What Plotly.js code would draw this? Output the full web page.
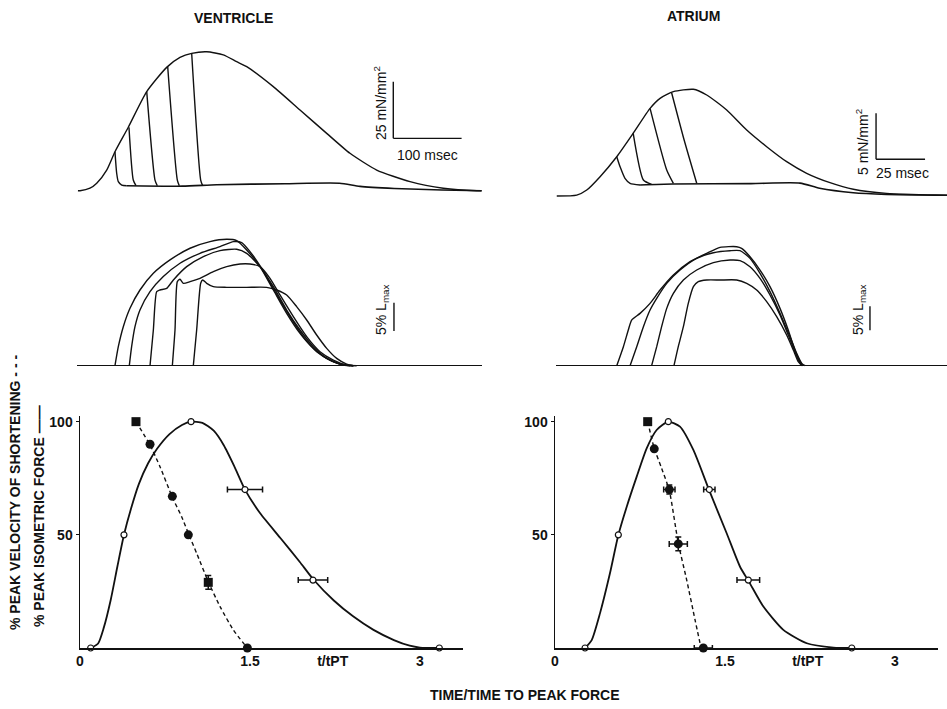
<!DOCTYPE html>
<html><head><meta charset="utf-8">
<script src="https://cdn.plot.ly/plotly-3.0.1.min.js"></script>
<style>html,body{margin:0;padding:0;background:#fff}</style>
</head><body><div id="chart" style="width:947px;height:709px"></div>
<script>
// ===== DATA =====
// Ventricle: isometric twitch (ms, mN/mm^2)
const vIsoT = [-3, 0, 14.6, 24.5, 39.1, 51.2, 70.7, 97.7, 126.9, 146.4, 163.5, 185.5, 209.8, 229.4, 244.1, 283.0, 322.1, 361.2, 395.3, 434.4, 483.2, 531.9, 580.8, 588];
const vIsoF = [0, 0, 1.1, 3.3, 9.1, 17.2, 28.0, 43.7, 54.4, 58.8, 60.6, 61.3, 59.9, 56.9, 54.7, 45.9, 35.6, 25.3, 16.5, 9.1, 4.0, 1.1, 0, 0];
// Ventricle: quick-release force drops
const vRelT = [[51.2, 53.7, 56.1, 61.1, 68.4], [71.7, 78.0, 82.0], [97.7, 109.8, 113.2], [128.4, 142.5, 145.4], [163.5, 176.7, 179.6]];
const vRelF = [[17.2, 7.7, 4.0, 2.5, 2.2], [28.0, 4.7, 2.2], [43.7, 4.7, 2.2], [54.7, 4.7, 2.2], [60.6, 4.7, 2.2]];
const vTailT = [68.4, 150, 200, 300, 380, 410, 460, 530, 588];
const vTailF = [2.2, 2.0, 2.6, 3.1, 3.3, 1.9, 1.0, 0.3, 0];
// Ventricle: shortening traces (ms, % Lmax)
const vLenT = [
  [51.2,56.1,63.4,73.2,87.8,107.4,131.8,161.1,190.3,214.7,229.4,244.0,263.5,283.1,302.6,322.1,341.6,361.2,380.7,395.3],
  [72.2,75.6,80.5,87.8,102.5,122.0,146.4,175.7,205.0,224.5,236.7,248.9,266.0,285.5,307.5,327.0,346.5,366.0,385.6,400.2],
  [102.5,107.4,112.3,117.1,126.9,136.7,156.2,180.6,205.0,229.4,244.0,263.5,283.1,302.6,322.1,341.6,361.2,380.7,400.2],
  [135.2,139.1,142.5,146.4,151.3,161.1,175.7,195.2,214.7,234.3,248.9,263.5,278.2,292.8,312.4,331.9,351.4,370.9,390.4,405.1],
  [165.9,170.8,176.7,179.6,185.5,195.2,214.7,244.0,273.3,287.9,302.6,317.2,331.9,346.5,361.2,375.8,390.4,400.2]
];
const vLenL = [
  [0,3.35,6.88,10.12,13.35,16.29,18.65,20.71,21.88,22.29,22.06,20.41,17.47,13.35,9.24,5.71,3.06,1.29,0.29,0],
  [0,3.35,6.88,9.82,13.06,15.71,18.06,19.82,21.0,21.88,21.71,20.12,17.18,13.06,8.65,5.12,2.47,1.0,0.12,0],
  [0,6.29,13.06,13.35,13.65,15.12,17.47,19.24,20.29,20.53,19.82,17.47,13.94,9.82,6.29,3.35,1.29,0.29,0],
  [0,6.29,14.82,15.24,14.53,14.82,15.41,16.59,17.47,17.94,17.94,17.47,15.41,12.47,8.65,5.12,2.47,1.0,0.12,0],
  [0,6.29,14.53,15.12,14.53,13.94,13.82,13.82,13.82,13.35,12.47,10.41,8.06,5.41,3.06,1.29,0.29,0]
];
// Atrium: isometric twitch (ms, mN/mm^2)
const aIsoT = [0.9, 11.1, 16.2, 23.0, 31.5, 39.9, 48.5, 53.6, 60.4, 70.6, 77.4, 87.6, 97.8, 108.0, 118.2, 128.4, 140.3, 152.2, 169.2, 194.7, 200];
const aIsoF = [0, 0.1, 0.65, 2.1, 4.27, 6.82, 9.53, 10.62, 11.34, 11.6, 10.98, 9.35, 7.17, 5.36, 3.73, 2.47, 1.45, 0.73, 0.29, 0.11, 0.1];
const aRelT = [[31.5, 33.2, 35.7, 38.3, 43.4], [39.9, 45.1, 49.3], [48.5, 57.0, 60.4], [59.5, 66.0, 72.3]];
const aRelF = [[4.27, 3.18, 1.92, 1.38, 1.2], [6.82, 1.74, 1.27], [9.53, 2.83, 1.38], [11.23, 6.0, 1.38]];
const aTailT = [43.4, 60, 100, 125, 135, 152.2, 169.2, 194.7, 200];
const aTailF = [1.2, 1.3, 1.35, 1.4, 0.84, 0.36, 0.18, 0.08, 0.08];
// Atrium: shortening traces (ms, % Lmax)
const aLenT = [
  [31.5,34.9,37.4,39.1,43.4,48.5,53.6,60.4,68.9,77.4,84.2,92.7,95.2,99.5,104.6,109.7,114.8,119.0,122.4,125.0,126.4],
  [38.3,41.7,45.1,48.5,51.9,57.0,63.8,72.3,80.8,89.3,94.4,99.5,104.6,109.7,114.8,119.9,123.3,125.9,127.6],
  [49.3,51.9,54.4,57.0,60.4,65.5,72.3,80.8,89.3,94.4,99.5,104.6,109.7,114.8,119.0,122.4,125.0,126.7],
  [60.7,62.9,65.5,68.0,70.6,73.1,77.4,84.2,92.7,97.8,102.9,108.0,113.1,118.2,121.6,124.1,125.9]
];
const aLenL = [
  [0,3.96,7.43,9.51,10.9,12.99,15.76,18.89,21.67,23.4,24.65,24.79,24.44,22.71,19.93,16.46,11.94,7.43,3.26,0.83,0],
  [0,3.96,8.13,11.6,14.03,17.15,19.93,22.36,23.54,23.96,23.96,22.36,19.24,15.42,10.9,6.04,2.57,0.49,0],
  [0,3.96,8.13,11.94,15.07,17.85,19.93,21.46,22.01,21.88,20.63,18.19,14.72,10.56,6.39,2.92,0.63,0],
  [0,3.96,8.13,12.99,16.46,17.5,17.85,17.85,17.85,17.15,15.76,13.33,10.21,6.39,3.26,0.83,0]
];
// Scale bar sizes
const V_FORCE_BAR = 25, V_TIME_BAR = 100, A_FORCE_BAR = 5, A_TIME_BAR = 25, LEN_BAR = 5;

// Bottom panels (t/tPT, %)
const vForceCurveT = [0.094,0.16,0.21,0.27,0.33,0.388,0.45,0.52,0.6,0.68,0.79,0.9,0.98,1.08,1.18,1.27,1.36,1.456,1.59,1.77,1.94,2.056,2.24,2.41,2.59,2.77,2.91,3.0,3.171];
const vForceCurveY = [0,2,9,21,36,50,61.5,72.5,81.5,88,94.5,98.5,100,99.5,96,89.5,80.5,70,59.5,48.5,38,30.5,21,14,8,3.5,1,0.2,0];
const vForcePtT = [0.094, 0.388, 0.98, 1.456, 2.056, 3.171];
const vForcePtY = [0, 50, 100, 70, 30, 0];
const vForcePtErrT = [0, 0, 0, 0.155, 0.13, 0];
const vVelCurveT = [0.494,0.618,0.706,0.815,0.897,0.956,1.03,1.132,1.236,1.353,1.477];
const vVelCurveY = [100,89.7,80.1,66.6,58.0,50.7,41.8,29.3,18.3,8.0,0];
const vVelPtT = [0.494, 0.618, 0.815, 0.956, 1.132, 1.477];
const vVelPtY = [100, 90, 67, 50, 29, 0];
const vVelPtErrY = [0, 0, 0, 0, 3, 0];

const aForceCurveT = [0.265,0.324,0.397,0.485,0.559,0.633,0.721,0.809,0.897,1.0,1.103,1.221,1.362,1.515,1.633,1.715,1.839,2.015,2.222,2.457,2.619];
const aForceCurveY = [0,3.5,15.3,33.0,49.9,62.4,75.7,88.2,96.3,100,97.8,87.5,69.5,50.7,35.9,29.0,18.3,8.0,2.1,0.2,0];
const aForcePtT = [0.265, 0.559, 1.0, 1.362, 1.706, 2.619];
const aForcePtY = [0, 50, 100, 70, 30, 0];
const aForcePtErrT = [0, 0, 0, 0.05, 0.1, 0];
const aVelCurveT = [0.818,0.876,0.941,1.009,1.088,1.162,1.236,1.289];
const aVelCurveY = [100,88.2,79.4,69.5,46.3,30.1,12.4,0];
const aVelPtT = [0.818, 0.876, 1.009, 1.088, 1.309];
const aVelPtY = [100, 88, 70, 46, 0];
const aVelPtErrT = [0, 0, 0.05, 0.08, 0.08];
const aVelPtErrY = [0, 0, 2, 3, 0];

const xTickVals = [0, 1.5, 2.23, 3];
const xTickText = ['0', '1.5', 't/tPT', '3'];
const yTickVals = [50, 100];

// ===== BUILD =====
const W = 947, H = 709;
const fx = p => p / W, fy = p => 1 - p / H;
const FONT = "'Liberation Sans', Arial, sans-serif";
const BLK = '#111';
const traces = [];
function line(x, y, xa, ya, w, extra) {
  traces.push(Object.assign({x, y, xaxis: xa, yaxis: ya, type: 'scatter', mode: 'lines',
    line: {color: BLK, width: w, shape: 'spline', smoothing: 0.6}, hoverinfo: 'skip', showlegend: false, cliponaxis: false}, extra || {}));
}
// top-left
line(vIsoT, vIsoF, 'x', 'y', 1.4);
vRelT.forEach((t, i) => line(t, vRelF[i], 'x', 'y', 1.4));
line(vTailT, vTailF, 'x', 'y', 1.6);
// mid-left
vLenT.forEach((t, i) => line(t, vLenL[i], 'x2', 'y2', 1.4));
// top-right
line(aIsoT, aIsoF, 'x3', 'y3', 1.4);
aRelT.forEach((t, i) => line(t, aRelF[i], 'x3', 'y3', 1.4));
line(aTailT, aTailF, 'x3', 'y3', 1.6);
// mid-right
aLenT.forEach((t, i) => line(t, aLenL[i], 'x4', 'y4', 1.4));

// bottom panels
function bottom(xa, ya, fcT, fcY, fpT, fpY, fpErr, vcT, vcY, vpT, vpY, vpErrX, vpErrY, vSyms) {
  line(fcT, fcY, xa, ya, 1.8);
  line(vcT, vcY, xa, ya, 1.4, {line: {color: BLK, width: 1.4, dash: '4px,3px', shape: 'spline', smoothing: 0.6}});
  traces.push({x: fpT, y: fpY, xaxis: xa, yaxis: ya, type: 'scatter', mode: 'markers', cliponaxis: false, showlegend: false, hoverinfo: 'skip',
    marker: {symbol: 'circle', size: 6, color: '#fff', line: {color: BLK, width: 1.2}},
    error_x: {type: 'data', array: fpErr, visible: true, color: BLK, thickness: 1.5, width: 3}});
  const vp = {x: vpT, y: vpY, xaxis: xa, yaxis: ya, type: 'scatter', mode: 'markers', cliponaxis: false, showlegend: false, hoverinfo: 'skip',
    marker: {symbol: vSyms, size: 9, color: BLK},
    error_y: {type: 'data', array: vpErrY, visible: true, color: BLK, thickness: 1.5, width: 3}};
  if (vpErrX) vp.error_x = {type: 'data', array: vpErrX, visible: true, color: BLK, thickness: 1.5, width: 3};
  traces.push(vp);
}
bottom('x5', 'y5', vForceCurveT, vForceCurveY, vForcePtT, vForcePtY, vForcePtErrT, vVelCurveT, vVelCurveY, vVelPtT, vVelPtY, null, vVelPtErrY,
  ['square', 'circle', 'circle', 'circle', 'square', 'circle']);
bottom('x6', 'y6', aForceCurveT, aForceCurveY, aForcePtT, aForcePtY, aForcePtErrT, aVelCurveT, aVelCurveY, aVelPtT, aVelPtY, aVelPtErrT, aVelPtErrY,
  ['square', 'circle', 'circle', 'circle', 'circle']);

const hidden = {showgrid: false, zeroline: false, showline: false, showticklabels: false, ticks: ''};
const tickFont = {family: FONT, size: 14, color: BLK, weight: 'bold'};
const botX = {showgrid: false, zeroline: false, showline: true, linecolor: BLK, linewidth: 1.5, ticks: '',
  tickvals: xTickVals, ticktext: xTickText, tickfont: tickFont, range: [0, 3.38]};
const botY = {showgrid: false, zeroline: false, showline: true, linecolor: BLK, linewidth: 1.5, ticks: 'outside', ticklen: 3, tickcolor: BLK,
  tickvals: yTickVals, tickfont: tickFont, range: [0, 102.5], domain: [fy(648), fy(416)]};

const shapes = [];
function bar(xr, yr, x0, y0, x1, y1) { shapes.push({type: 'line', xref: xr, yref: yr, x0, y0, x1, y1, line: {color: BLK, width: 1.4}}); }
bar('x', 'y', 458.7, 23.1, 458.7, 23.1 + V_FORCE_BAR);
bar('x', 'y', 458.7, 23.1, 458.7 + V_TIME_BAR, 23.1);
bar('x3', 'y3', 163.8, 4.0, 163.8, 4.0 + A_FORCE_BAR);
bar('x3', 'y3', 163.8, 4.0, 163.8 + A_TIME_BAR, 4.0);
bar('x2', 'y2', 459.7, 6.1, 459.7, 6.1 + LEN_BAR);
bar('x4', 'y4', 160.7, 7.4, 160.7, 7.4 + LEN_BAR);

const annotations = [];
function ann(text, x, y, size, opts) {
  annotations.push(Object.assign({text, x: fx(x), y: fy(y), xref: 'paper', yref: 'paper', xanchor: 'center', yanchor: 'middle',
    showarrow: false, font: {family: FONT, size, color: BLK}}, opts || {}));
}
const bold = s => ({font: {family: FONT, size: s, color: BLK, weight: 'bold'}});
ann('VENTRICLE', 233, 18, 14, bold(14));
ann('ATRIUM', 693, 16, 14, bold(14));
ann('25 mN/mm<sup>2</sup>', 380, 103, 14, {textangle: -90});
ann('100 msec', 427, 155, 14);
ann('5 mN/mm<sup>2</sup>', 862, 142, 14, {textangle: -90});
ann('25 msec', 902, 173, 14);
ann('5% L<sub>max</sub>', 382, 310, 14, {textangle: -90});
ann('5% L<sub>max</sub>', 859, 310, 14, {textangle: -90});
ann('TIME/TIME TO PEAK FORCE', 525, 695, 14, bold(14));
ann('% PEAK VELOCITY OF SHORTENING - - -', 15, 493, 14, Object.assign({textangle: -90}, bold(14)));
ann('% PEAK ISOMETRIC FORCE ——', 39, 516, 14, Object.assign({textangle: -90}, bold(14)));

const layout = {
  width: W, height: H, margin: {l: 0, r: 0, t: 0, b: 0}, paper_bgcolor: '#fff', plot_bgcolor: 'rgba(0,0,0,0)', showlegend: false,
  xaxis: Object.assign({}, hidden, {domain: [fx(77), fx(482)], range: [-4.39, 588.58], anchor: 'y'}),
  yaxis: Object.assign({}, hidden, {domain: [fy(200), fy(40)], range: [-4.10, 66.48], anchor: 'x'}),
  xaxis2: Object.assign({}, hidden, {domain: [fx(77), fx(482)], range: [-4.39, 588.58], anchor: 'y2'}),
  yaxis2: Object.assign({}, hidden, {domain: [fy(375), fy(225)], range: [-1.64, 24.81], anchor: 'x2', zeroline: true, zerolinecolor: BLK, zerolinewidth: 1.5}),
  xaxis3: Object.assign({}, hidden, {domain: [fx(556), fx(947)], range: [0.51, 200], anchor: 'y3'}),
  yaxis3: Object.assign({}, hidden, {domain: [fy(200), fy(40)], range: [-0.435, 16.96], anchor: 'x3'}),
  xaxis4: Object.assign({}, hidden, {domain: [fx(556), fx(947)], range: [0.51, 200], anchor: 'y4'}),
  yaxis4: Object.assign({}, hidden, {domain: [fy(375), fy(225)], range: [-1.94, 29.31], anchor: 'x4', zeroline: true, zerolinecolor: BLK, zerolinewidth: 1.5}),
  xaxis5: Object.assign({}, botX, {domain: [fx(80), fx(463)], anchor: 'y5'}),
  yaxis5: Object.assign({}, botY, {anchor: 'x5'}),
  xaxis6: Object.assign({}, botX, {domain: [fx(555), fx(938)], anchor: 'y6'}),
  yaxis6: Object.assign({}, botY, {anchor: 'x6'}),
  shapes, annotations
};
Plotly.newPlot('chart', traces, layout, {staticPlot: true, displayModeBar: false});
</script></body></html>
